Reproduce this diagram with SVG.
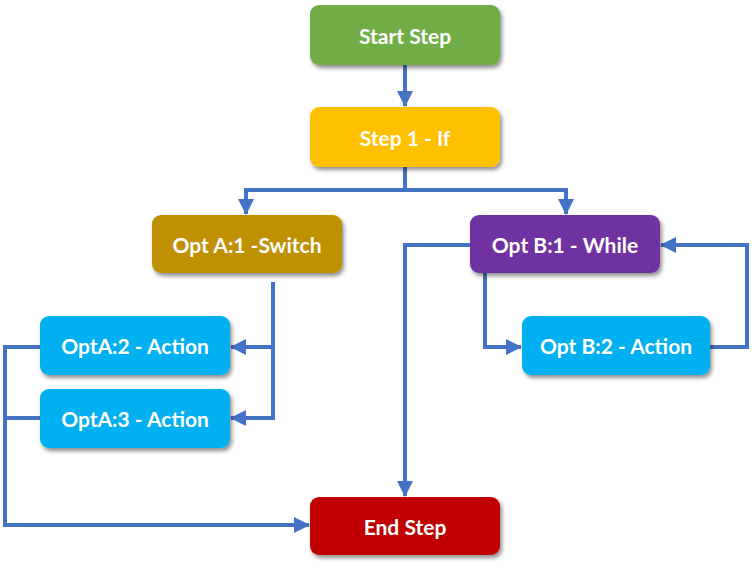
<svg xmlns="http://www.w3.org/2000/svg" width="752" height="570" viewBox="0 0 752 570">
<defs>
<filter id="sh" x="-10%" y="-20%" width="125%" height="150%">
<feGaussianBlur in="SourceAlpha" stdDeviation="2"/>
<feOffset dx="2" dy="3" result="b"/>
<feComponentTransfer><feFuncA type="linear" slope="0.45"/></feComponentTransfer>
<feMerge><feMergeNode/><feMergeNode in="SourceGraphic"/></feMerge>
</filter>
<marker id="ah" markerUnits="userSpaceOnUse" markerWidth="16" markerHeight="16" viewBox="0 0 16 16" refX="15" refY="8" orient="auto">
<path d="M0,0 L16,8 L0,16 Z" fill="#4472C4"/>
</marker>
</defs>
<style>
rect.n{filter:url(#sh)}
text{font-family:Lato,"Open Sans","Liberation Sans",sans-serif;font-weight:bold;font-size:21px;fill:#fff;text-anchor:middle;dominant-baseline:central}
.c{fill:none;stroke:#4472C4;stroke-width:4}
</style>
<rect width="752" height="570" fill="#fff"/>
<g id="connectors">
<path class="c" d="M405,65 V106" marker-end="url(#ah)"/>
<path class="c" d="M405,167 V190 H246 V214" marker-end="url(#ah)"/>
<path class="c" d="M405,190 H566 V214" marker-end="url(#ah)"/>
<path class="c" d="M273,282 V347 H231" marker-end="url(#ah)"/>
<path class="c" d="M273,347 V418 H231" marker-end="url(#ah)"/>
<path class="c" d="M485,273 V347 H521" marker-end="url(#ah)"/>
<path class="c" d="M710,347 H747 V245 H661" marker-end="url(#ah)"/>
<path class="c" d="M470,245 H405 V496" marker-end="url(#ah)"/>
<path class="c" d="M40,347 H5 V525 H309" marker-end="url(#ah)"/>
<path class="c" d="M40,418 H5"/>
</g>
<g id="start"><rect class="n" x="310" y="5" width="190" height="60" rx="9" fill="#70AD47"/><text x="405" y="35">Start Step</text></g>
<g id="step1"><rect class="n" x="310" y="107" width="190" height="60" rx="9" fill="#FFC000"/><text x="405" y="137">Step 1 - If</text></g>
<g id="optA1"><rect class="n" x="152" y="215" width="190" height="58" rx="9" fill="#BF9000"/><text x="247" y="244">Opt A:1 -Switch</text></g>
<g id="optB1"><rect class="n" x="470" y="215" width="190" height="58" rx="9" fill="#7030A0"/><text x="565" y="244">Opt B:1 - While</text></g>
<g id="optA2"><rect class="n" x="40" y="316" width="190" height="59" rx="9" fill="#00B0F0"/><text x="135" y="345">OptA:2 - Action</text></g>
<g id="optA3"><rect class="n" x="40" y="389" width="190" height="59" rx="9" fill="#00B0F0"/><text x="135" y="418">OptA:3 - Action</text></g>
<g id="optB2"><rect class="n" x="522" y="316" width="188" height="59" rx="9" fill="#00B0F0"/><text x="616" y="345">Opt B:2 - Action</text></g>
<g id="end"><rect class="n" x="310" y="497" width="190" height="58" rx="9" fill="#C00000"/><text x="405" y="526">End Step</text></g>
</svg>
